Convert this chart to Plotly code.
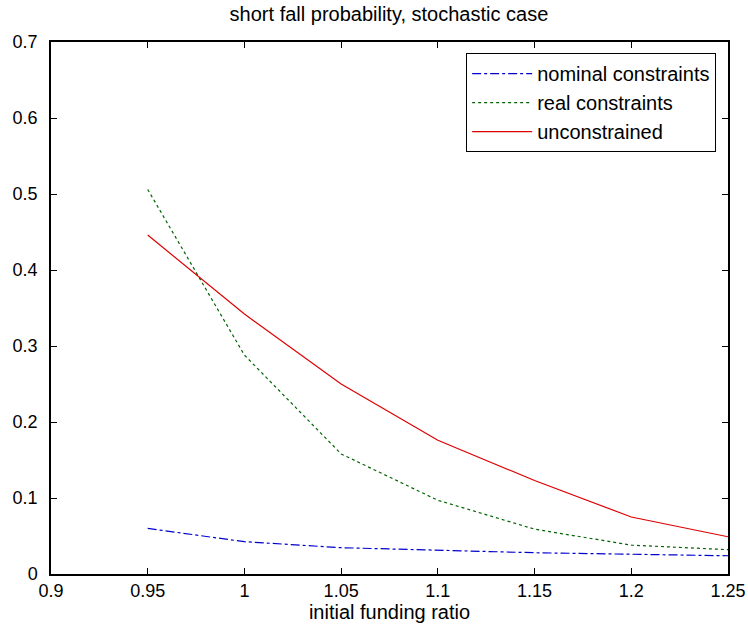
import plotly.graph_objects as go

funding_ratio = [0.95, 1.0, 1.05, 1.1, 1.15, 1.2, 1.25]
nominal_constraints = [0.060, 0.0425, 0.0346, 0.0316, 0.028, 0.026, 0.024]
real_constraints = [0.506, 0.288, 0.158, 0.097, 0.059, 0.038, 0.032]
unconstrained = [0.446, 0.342, 0.250, 0.176, 0.123, 0.075, 0.049]

x_ticks = [0.9, 0.95, 1.0, 1.05, 1.1, 1.15, 1.2, 1.25]
x_tick_labels = ["0.9", "0.95", "1", "1.05", "1.1", "1.15", "1.2", "1.25"]
y_ticks = [0, 0.1, 0.2, 0.3, 0.4, 0.5, 0.6, 0.7]
y_tick_labels = ["0", "0.1", "0.2", "0.3", "0.4", "0.5", "0.6", "0.7"]

FONT = "Liberation Sans, Arial, sans-serif"

fig = go.Figure()
fig.add_trace(go.Scatter(x=funding_ratio, y=nominal_constraints, mode="lines",
                         name="nominal constraints",
                         line=dict(color="#0000cc", width=1.2, dash="dashdot")))
fig.add_trace(go.Scatter(x=funding_ratio, y=real_constraints, mode="lines",
                         name="real constraints",
                         line=dict(color="#006400", width=1.2, dash="dot")))
fig.add_trace(go.Scatter(x=funding_ratio, y=unconstrained, mode="lines",
                         name="unconstrained",
                         line=dict(color="#dd0000", width=1.2)))

axis_common = dict(showgrid=False, zeroline=False, showline=True, linecolor="black",
                   linewidth=1.5, mirror="ticks", ticks="inside", ticklen=6,
                   tickcolor="black", tickwidth=1, automargin=False,
                   tickfont=dict(family=FONT, size=18, color="black"))

fig.update_layout(
    width=748, height=630,
    margin=dict(l=51, r=20, t=42, b=56),
    paper_bgcolor="white", plot_bgcolor="white",
    title=dict(text="short fall probability, stochastic case",
               x=0.52, xanchor="center", y=0.977, yanchor="middle",
               font=dict(family=FONT, size=20, color="black")),
    xaxis=dict(range=[0.9, 1.25], tickvals=x_ticks, ticktext=x_tick_labels,
               ticklabelstandoff=0,
               title=dict(text="initial funding ratio", standoff=3,
                          font=dict(family=FONT, size=20, color="black")),
               **axis_common),
    yaxis=dict(range=[0, 0.7], tickvals=y_ticks, ticktext=y_tick_labels,
               ticklabelstandoff=8,
               **axis_common),
    legend=dict(x=0.9825, xanchor="right", y=0.979, yanchor="top",
                bordercolor="black", borderwidth=1, bgcolor="white",
                font=dict(family=FONT, size=20, color="black"),
                itemwidth=60, tracegroupgap=0),
    showlegend=True,
)

fig.write_html("out.html")
